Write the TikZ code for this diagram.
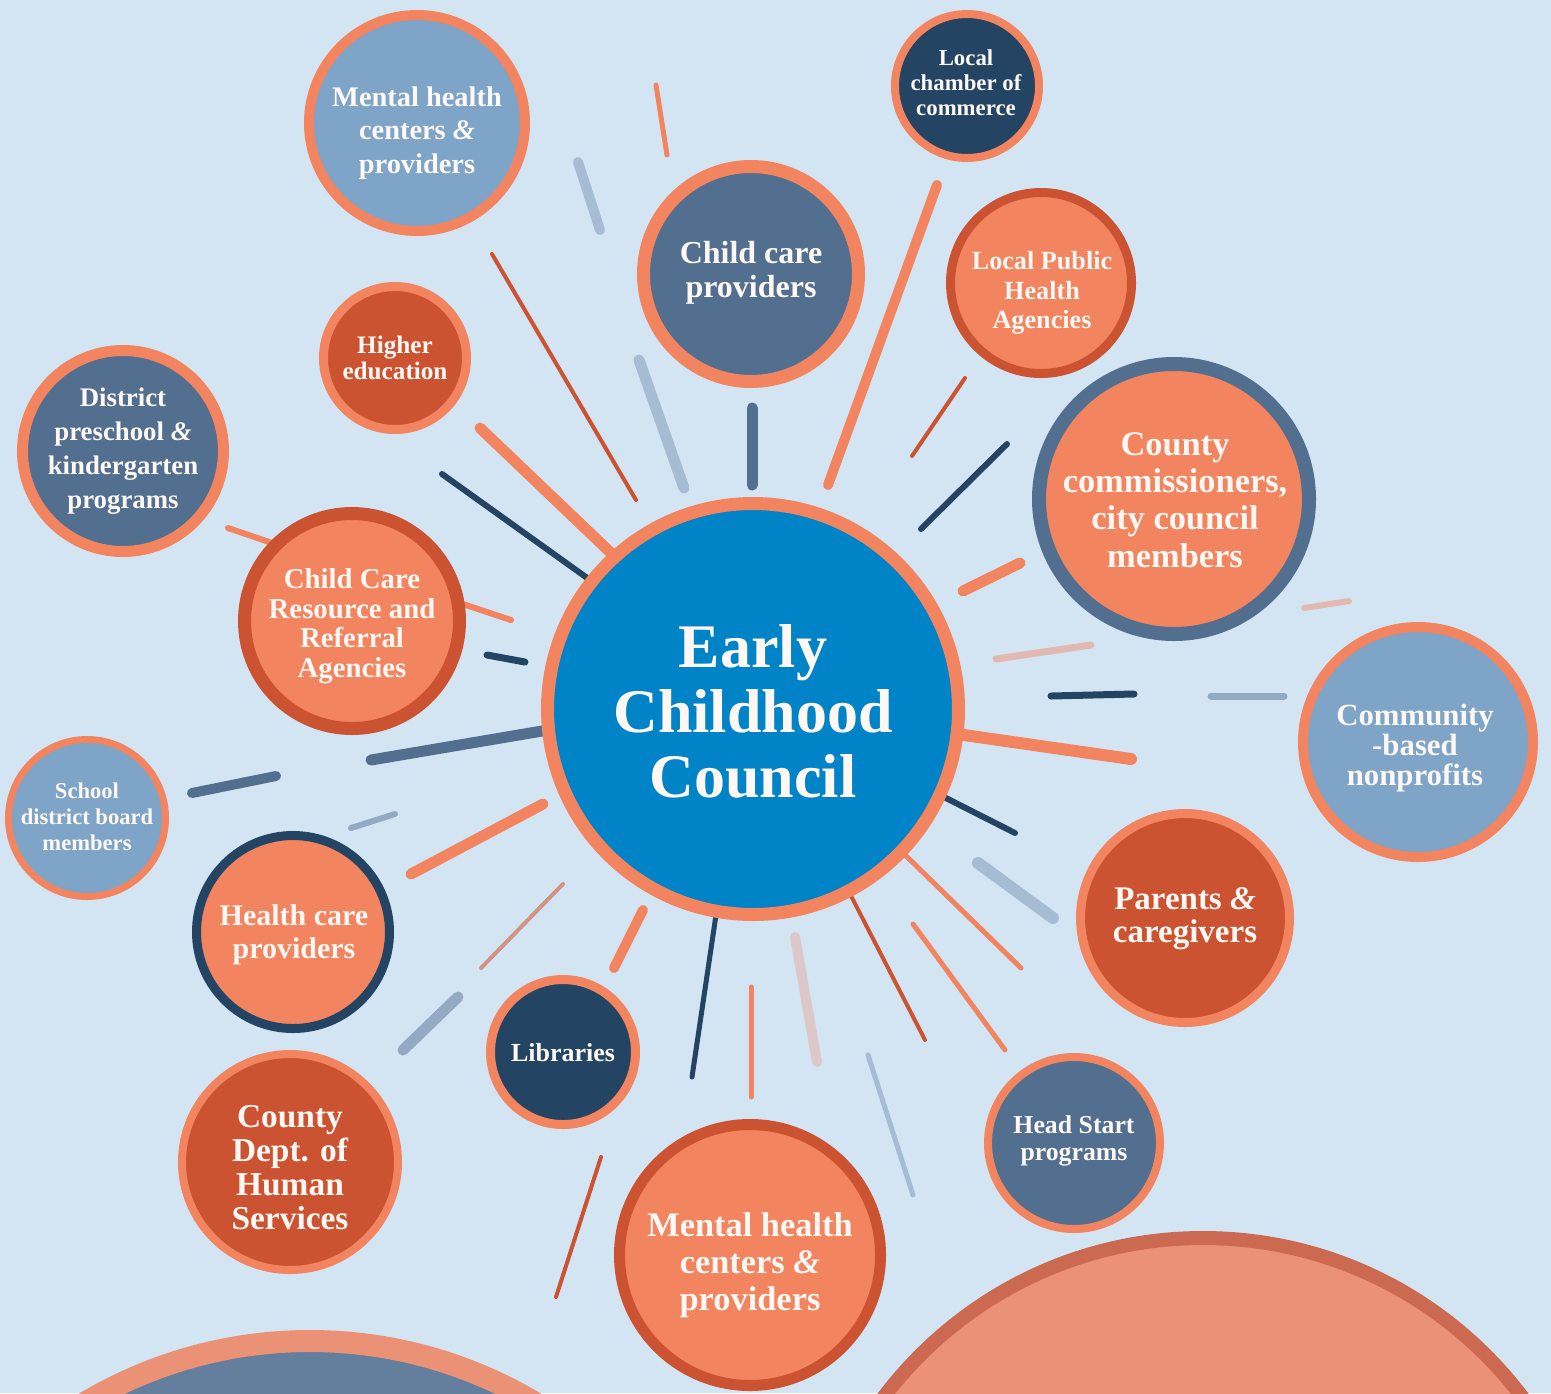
\documentclass[tikz,border=0pt]{standalone}
\usepackage{fontspec}
\setmainfont{Liberation Serif}
\definecolor{bg}{HTML}{D3E5F3}
\definecolor{org}{HTML}{F2845F}
\definecolor{dorg}{HTML}{CB5331}
\definecolor{slate}{HTML}{526F8F}
\definecolor{steel}{HTML}{7EA4C8}
\definecolor{navy}{HTML}{234563}
\definecolor{cblue}{HTML}{0083C7}
\definecolor{lgb}{HTML}{A6BCD2}
\definecolor{gbb}{HTML}{93AAC2}
\definecolor{pnk}{HTML}{E2B9B0}
\definecolor{pnkl}{HTML}{DEC7C8}
\definecolor{brn}{HTML}{D09385}
\definecolor{brRing}{HTML}{CC6951}
\definecolor{brFill}{HTML}{EB9177}
\definecolor{blRing}{HTML}{EA9176}
\definecolor{blFill}{HTML}{637F9D}
\definecolor{txt}{HTML}{FDF8F3}
\tikzset{
  ray/.style={line cap=round},
  bubble/.style={circle, inner sep=0pt, outer sep=0pt},
  lbl/.style={align=center, text=txt, inner sep=0pt},
}
\newcommand\amp{\textit{\&}}
% name, x, y, outer radius px, ring px, ring colour, fill colour
\newcommand\bub[7]{\node[bubble, draw=#6, fill=#7, line width=#5pt/2, minimum size={(#4-#5/2)*1pt}] (#1) at (#2,#3) {};}
\begin{document}
\begin{tikzpicture}[x=0.5pt,y=-0.5pt]
\useasboundingbox (0,0) rectangle (1551,1393);
\clip (0,0) rectangle (1551,1393);
\fill[bg] (0,0) rectangle (1551,1393);

% large partial circles at the bottom
\bub{bigR}{1203}{1638}{407}{14}{brRing}{brFill}
\bub{bigL}{310}{1781}{451}{22}{blRing}{blFill}

% rays
\draw[ray, org, line width=2.5pt] (656,85) -- (667,155);
\draw[ray, lgb, line width=5pt] (578,162) -- (600,230);
\draw[ray, dorg, line width=2pt] (492,254) -- (636,500);
\draw[ray, lgb, line width=5.5pt] (639,360) -- (684,488);
\draw[ray, slate, line width=5.5pt] (752,408) -- (752,485);
\draw[ray, org, line width=5pt] (937,185) -- (828,485);
\draw[ray, dorg, line width=2pt] (965,378) -- (912,456);
\draw[ray, navy, line width=3pt] (1007,444) -- (921,529);
\draw[ray, org, line width=5.5pt] (1020,563) -- (963,591);
\draw[ray, pnk, line width=3pt] (1349,601) -- (1304,608);
\draw[ray, pnk, line width=3.5pt] (1091,645) -- (996,659);
\draw[ray, navy, line width=3.5pt] (1051,696) -- (1134,694);
\draw[ray, gbb, line width=3.5pt] (1211,696) -- (1284,696);
\draw[ray, org, line width=6pt] (950,733) -- (1131,759);
\draw[ray, navy, line width=3pt] (940,795) -- (1015,833);
\draw[ray, lgb, line width=6pt] (978,863) -- (1053,918);
\draw[ray, org, line width=2.5pt] (900,850) -- (1021,968);
\draw[ray, org, line width=2.5pt] (913,924) -- (1005,1050);
\draw[ray, dorg, line width=2pt] (848,890) -- (925,1040);
\draw[ray, lgb, line width=2.5pt] (868,1055) -- (913,1195);
\draw[ray, pnkl, line width=5pt] (795,937) -- (817,1062);
\draw[ray, org, line width=2.5pt] (751,987) -- (751,1097);
\draw[ray, navy, line width=2.5pt] (716,915) -- (692,1077);
\draw[ray, org, line width=5pt] (643,910) -- (614,968);
\draw[ray, dorg, line width=2pt] (601,1157) -- (556,1297);
\draw[ray, brn, line width=2pt] (563,884) -- (481,968);
\draw[ray, gbb, line width=5.5pt] (458,997) -- (403,1050);
\draw[ray, org, line width=5.5pt] (543,804) -- (411,874);
\draw[ray, gbb, line width=3pt] (395,814) -- (351,828);
\draw[ray, slate, line width=5pt] (276,776) -- (192,793);
\draw[ray, slate, line width=5.5pt] (548,730) -- (371,760);
\draw[ray, navy, line width=3.5pt] (525,662) -- (487,655);
\draw[ray, org, line width=3pt] (511,620) -- (460,603);
\draw[ray, org, line width=3pt] (275,544) -- (228,528);
\draw[ray, navy, line width=3pt] (590,580) -- (442,474);
\draw[ray, org, line width=5.5pt] (611,553) -- (480,428);

% bubbles
\bub{center}{753}{709}{212}{13}{org}{cblue}
\bub{mhTop}{417}{123}{113}{10}{org}{steel}
\bub{ccp}{751}{274}{114}{13}{org}{slate}
\bub{chamber}{967}{86}{76}{8}{org}{navy}
\bub{lpha}{1041}{283}{95}{9}{dorg}{org}
\bub{county}{1174}{499}{142}{14}{slate}{org}
\bub{cbn}{1418}{742}{120}{10}{org}{steel}
\bub{parents}{1185}{918}{109}{9}{org}{dorg}
\bub{head}{1074}{1143}{90}{8}{org}{slate}
\bub{mhBot}{750}{1255}{136}{11}{dorg}{org}
\bub{lib}{563}{1052}{77}{9}{org}{navy}
\bub{dhs}{290}{1162}{112}{8}{org}{dorg}
\bub{hcp}{293}{932}{101}{9}{navy}{org}
\bub{school}{87}{818}{82}{7}{org}{steel}
\bub{ccrr}{352}{621}{114}{13}{dorg}{org}
\bub{dist}{123}{451}{106}{11}{org}{slate}
\bub{higher}{395}{358}{76}{9}{org}{dorg}

% labels
\node[lbl, font=\fontsize{31}{32.5}\selectfont\bfseries] (tCenter) at (753,711) {Early\\Childhood\\Council};
\node[lbl, font=\fontsize{14.2}{16.7}\selectfont\bfseries] (tMhTop) at (417,133) {Mental health\\centers \amp\\providers};
\node[lbl, font=\fontsize{16}{17}\selectfont\bfseries] (tCcp) at (751,273) {Child care\\providers};
\node[lbl, font=\fontsize{11.4}{12.5}\selectfont\bfseries] (tChamber) at (966,83) {Local\\chamber of\\commerce};
\node[lbl, font=\fontsize{13.1}{14.7}\selectfont\bfseries] (tLpha) at (1042,293) {Local Public\\Health\\Agencies};
\node[lbl, font=\fontsize{17.2}{18.7}\selectfont\bfseries] (tCounty) at (1175,500) {County\\commissioners,\\city council\\members};
\node[lbl, font=\fontsize{15.4}{15}\selectfont\bfseries] (tCbn) at (1415,748) {Community\\-based\\nonprofits};
\node[lbl, font=\fontsize{16.5}{16.5}\selectfont\bfseries] (tParents) at (1185,919) {Parents \amp\\caregivers};
\node[lbl, font=\fontsize{12.9}{13.5}\selectfont\bfseries] (tHead) at (1074,1141) {Head Start\\programs};
\node[lbl, font=\fontsize{17.2}{18.5}\selectfont\bfseries] (tMhBot) at (750,1265) {Mental health\\centers \amp\\providers};
\node[lbl, font=\fontsize{13}{13}\selectfont\bfseries] (tLib) at (563,1053) {Libraries};
\node[lbl, font=\fontsize{16.7}{17}\selectfont\bfseries] (tDhs) at (290,1168) {County\\Dept. of\\Human\\Services};
\node[lbl, font=\fontsize{15}{16.5}\selectfont\bfseries] (tHcp) at (294,935) {Health care\\providers};
\node[lbl, font=\fontsize{11.3}{13}\selectfont\bfseries] (tSchool) at (87,817) {School\\district board\\members};
\node[lbl, font=\fontsize{14.4}{14.8}\selectfont\bfseries] (tCcrr) at (352,626) {Child Care\\Resource and\\Referral\\Agencies};
\node[lbl, font=\fontsize{13.4}{17}\selectfont\bfseries] (tDist) at (123,451) {District\\preschool \amp\\kindergarten\\programs};
\node[lbl, font=\fontsize{12.6}{13}\selectfont\bfseries] (tHigher) at (395,358) {Higher\\education};
\end{tikzpicture}
\end{document}
